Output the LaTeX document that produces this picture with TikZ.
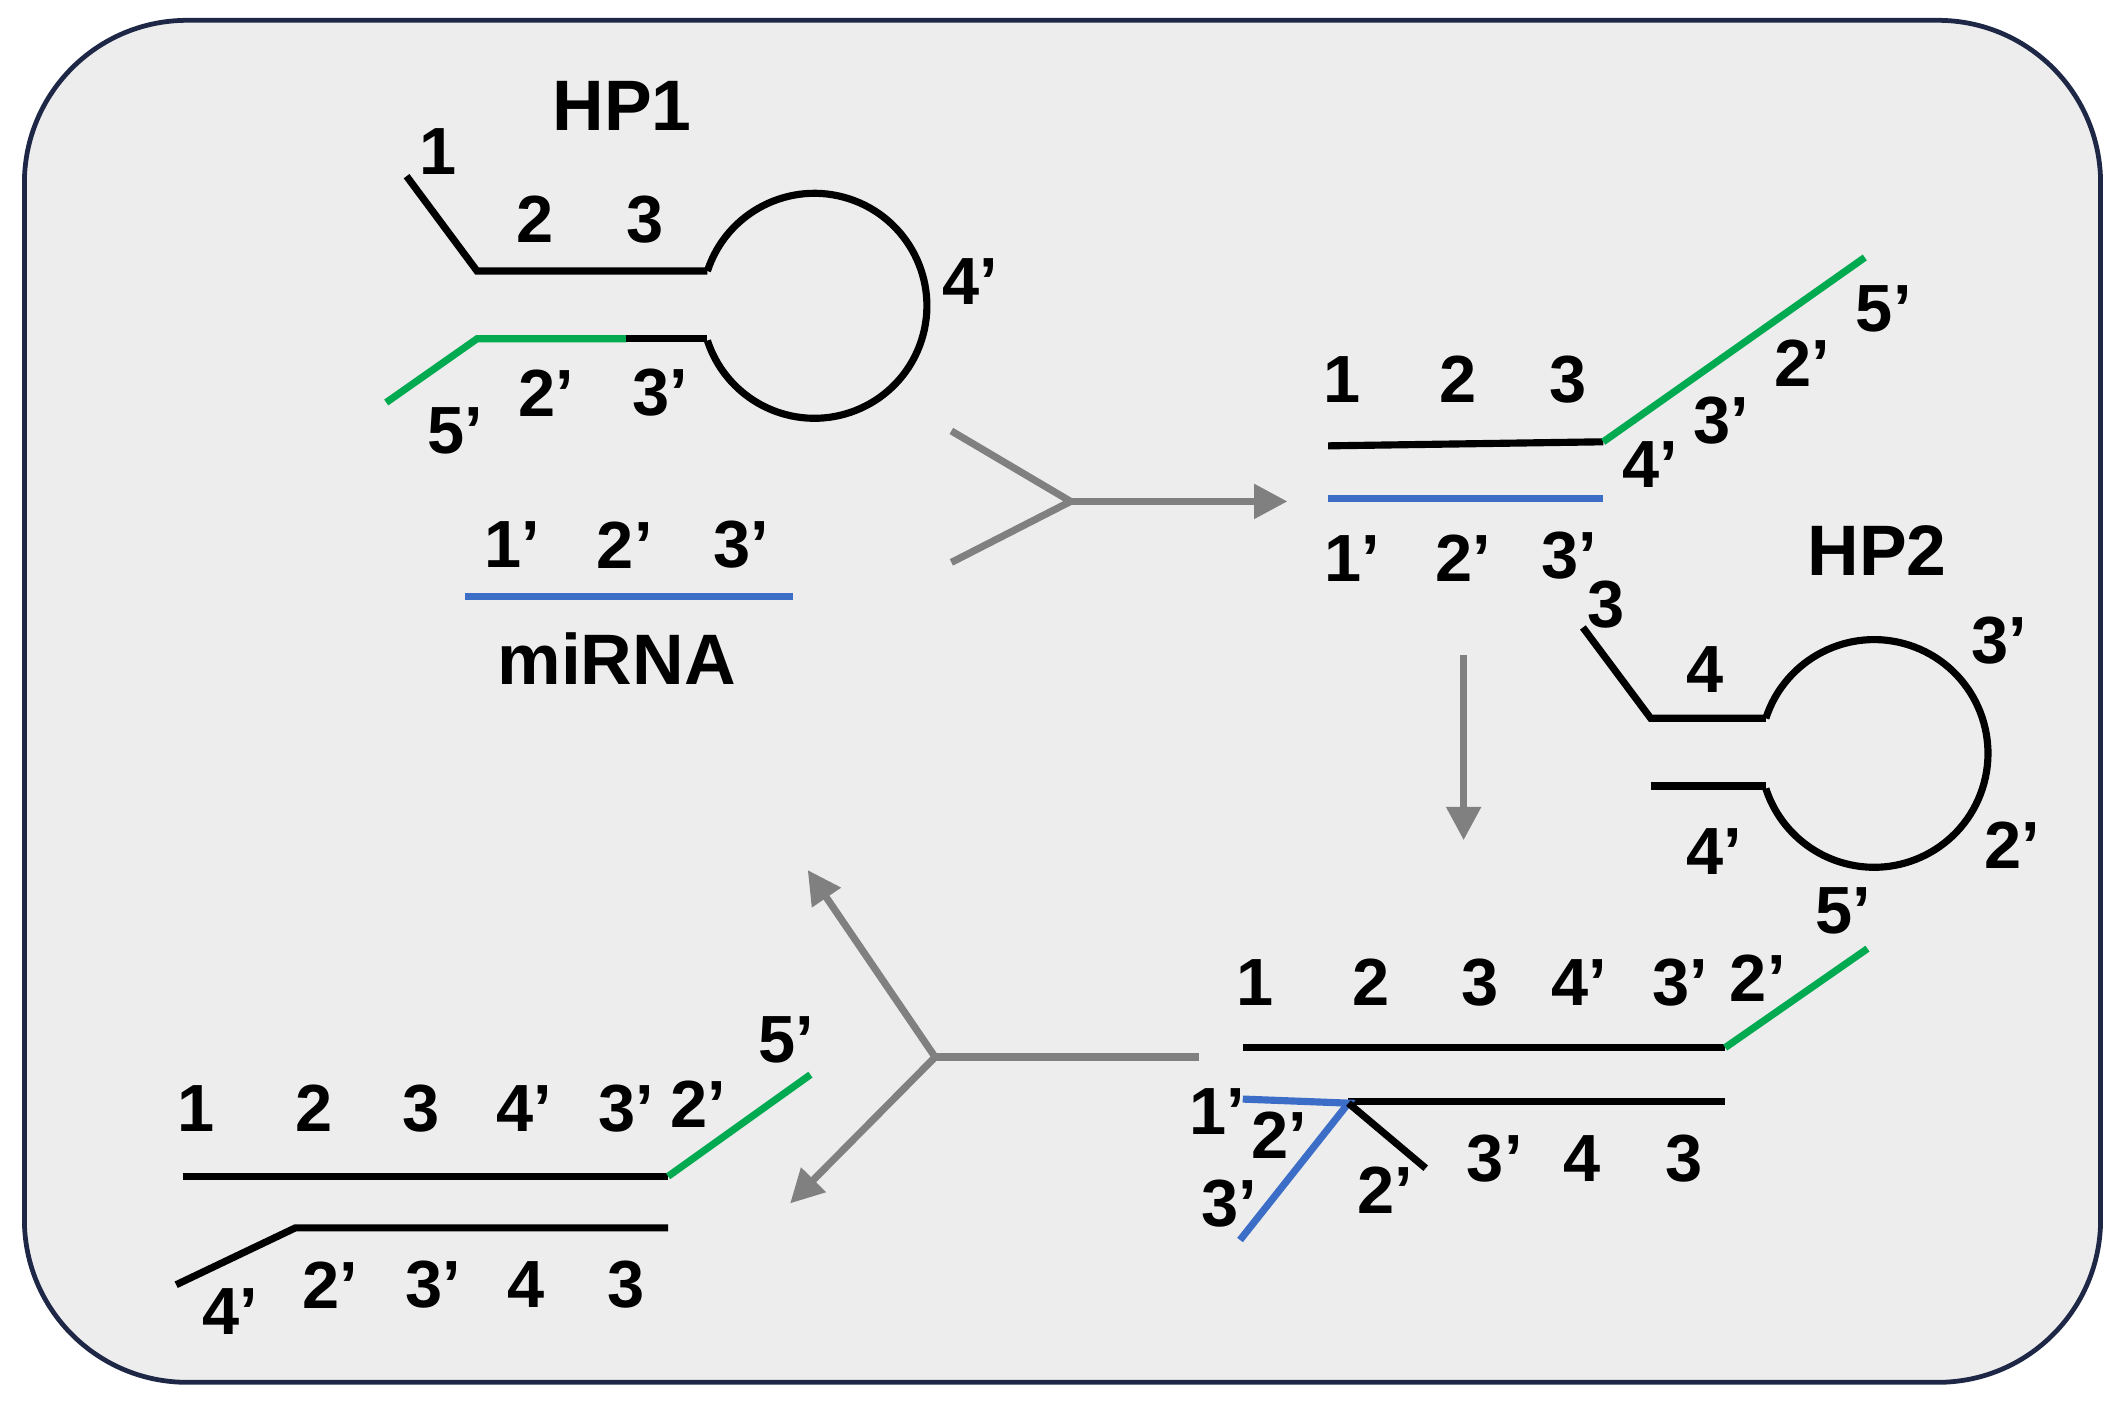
\documentclass[tikz,border=0pt]{standalone}
\usepackage{fontspec}
\setmainfont{Liberation Sans}
\usetikzlibrary{arrows.meta}
\definecolor{bg}{RGB}{237,237,237}
\definecolor{frame}{RGB}{30,40,70}
\definecolor{gr}{RGB}{0,170,80}
\definecolor{bl}{RGB}{60,110,200}
\definecolor{ar}{RGB}{128,128,128}
\begin{document}
\begin{tikzpicture}[x=0.01cm,y=-0.01cm,
  lab/.style={font=\fontsize{14}{16}\selectfont\bfseries,inner sep=0pt},
  big/.style={font=\fontsize{15}{17}\selectfont\bfseries,inner sep=0pt},
  st/.style={line width=1.5pt,black},
  g/.style={line width=1.5pt,gr},
  b/.style={line width=1.5pt,bl},
  ga/.style={line width=1.5pt,ar},
  gaa/.style={line width=1.5pt,ar,-{Triangle[length=7pt,width=7pt]}}]
\useasboundingbox (0,0) rectangle (1568,1040);
\draw[frame,fill=bg,line width=1pt,rounded corners=1.2cm] (18,15) rectangle (1550,1020);
% HP1
\draw[st] (300,130) -- (352,200) -- (522,200);
\draw[st] (522,200) arc[start angle=-162,end angle=162,radius=83];
\draw[g] (285,297) -- (352,250) -- (462,250);
\draw[st] (462,250) -- (522,250);
\node[big] at (459,78) {HP1};
\node[lab] at (323,112) {1};\node[lab] at (395,162) {2};\node[lab] at (476,162) {3};
\node[lab] at (716,208) {4’};\node[lab] at (336,318) {5’};\node[lab] at (403,290) {2’};\node[lab] at (487,290) {3’};
% miRNA
\draw[b] (343,440) -- (585,440);
\node[lab] at (378,402) {1’};\node[lab] at (461,402) {2’};\node[lab] at (547,402) {3’};
\node[big] at (455,486) {miRNA};
% arrow 1
\coordinate (j1) at (790,370);
\draw[ga] (702,318) -- (j1) -- (702,415);
\draw[gaa] (j1) -- (950,370);
% complex 1
\draw[st] (980,329) -- (1183,326);
\draw[g] (1183,326) -- (1376,190);
\draw[b] (980,368) -- (1183,368);
\node[lab] at (990,280) {1};\node[lab] at (1076,280) {2};\node[lab] at (1157,280) {3};
\node[lab] at (1218,343) {4’};\node[lab] at (1270,310) {3’};\node[lab] at (1330,268) {2’};\node[lab] at (1390,228) {5’};
\node[lab] at (998,412) {1’};\node[lab] at (1080,412) {2’};\node[lab] at (1158,410) {3’};
% HP2
\node[big] at (1385,406) {HP2};
\draw[st] (1168,463) -- (1218,530) -- (1303,530);
\draw[st] (1303,530) arc[start angle=-162,end angle=162,radius=84];
\draw[st] (1218,580) -- (1303,580);
\node[lab] at (1185,446) {3};\node[lab] at (1258,494) {4};\node[lab] at (1475,473) {3’};
\node[lab] at (1485,624) {2’};\node[lab] at (1265,628) {4’};
\draw[gaa] (1080,483) -- (1080,620);
% complex 2
\draw[st] (917,773) -- (1273,773);
\draw[g] (1273,773) -- (1378,700);
\draw[st] (995,813) -- (1273,813);
\draw[b] (917,811) -- (995,814) -- (915,915);
\draw[st] (995,814) -- (1052,862);
\node[lab] at (926,725) {1};\node[lab] at (1012,725) {2};\node[lab] at (1092,725) {3};
\node[lab] at (1165,725) {4’};\node[lab] at (1240,725) {3’};\node[lab] at (1297,722) {2’};\node[lab] at (1360,672) {5’};
\node[lab] at (898,820) {1’};\node[lab] at (944,838) {2’};\node[lab] at (907,888) {3’};
\node[lab] at (1022,878) {2’};\node[lab] at (1103,855) {3’};\node[lab] at (1167,855) {4};\node[lab] at (1243,855) {3};
% arrow 3
\coordinate (j2) at (690,780);
\draw[ga] (885,780) -- (j2);
\draw[gaa] (j2) -- (596,642);
\draw[gaa] (j2) -- (583,888);
% bottom left
\draw[st] (135,868) -- (493,868);
\draw[g] (493,868) -- (598,793);
\draw[st] (130,948) -- (218,906) -- (493,906);
\node[lab] at (145,818) {1};\node[lab] at (232,818) {2};\node[lab] at (311,818) {3};
\node[lab] at (387,818) {4’};\node[lab] at (462,818) {3’};\node[lab] at (515,815) {2’};\node[lab] at (580,767) {5’};
\node[lab] at (170,968) {4’};\node[lab] at (244,948) {2’};\node[lab] at (320,948) {3’};\node[lab] at (388,948) {4};\node[lab] at (462,948) {3};
\end{tikzpicture}
\end{document}
